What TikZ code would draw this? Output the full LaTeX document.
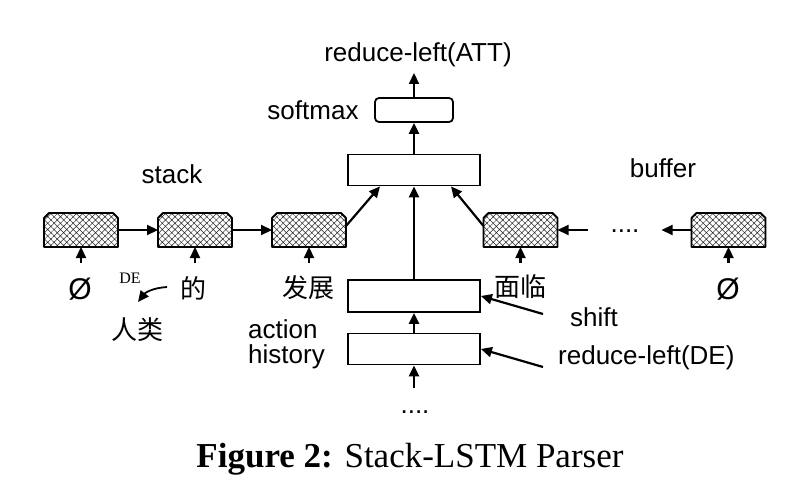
\documentclass[tikz,border=0pt]{standalone}
\usepackage{fontspec}
\setmainfont{Liberation Sans}
\newfontfamily\serif{Liberation Serif}
\newfontfamily\cjk{Noto Sans CJK SC}
\usetikzlibrary{patterns.meta,arrows.meta}
\begin{document}
\begin{tikzpicture}[x=1pt,y=-1pt,
  arr/.style={line width=2.2pt,-{Triangle[length=11pt,width=10pt]}},
  lstm/.style={minimum width=74pt,minimum height=34pt,inner sep=0pt,outer sep=0pt},
  lstmshape/.style={draw,line width=1.8pt,line join=round,
    pattern={Hatch[angle=45,distance=4.5pt,line width=0.5pt]},pattern color=black!85},
  plain/.style={draw,line width=1.8pt,minimum width=132pt,minimum height=31pt,inner sep=0pt},
  lab/.style={font=\fontsize{26}{26}\selectfont,inner sep=0pt},
  zh/.style={font=\fontsize{26}{26}\selectfont\cjk,inner sep=0pt}]
\useasboundingbox (0,0) rectangle (801,500);
% stack
\node[lstm] (s1) at (81,230) {};
\node[lstm] (s2) at (195,230) {};
\node[lstm] (s3) at (309,230) {};
% buffer
\node[lstm] (b1) at (520.5,230) {};
\node[lstm] (b2) at (728.5,230) {};
\foreach \n in {s1,s2,s3,b1,b2}
  \path[lstmshape] (\n.south west) -- ([yshift=-5pt]\n.north west) -- ([xshift=5pt]\n.north west)
    -- ([xshift=-5pt]\n.north east) -- ([yshift=-5pt]\n.north east) -- (\n.south east) -- cycle;
\node[lab,anchor=base] (dots) at (625,233) {....};
% central boxes
\node[draw,line width=1.8pt,rounded corners=4pt,minimum width=78pt,minimum height=24pt,inner sep=0pt] (sm) at (414,110) {};
\node[plain] (mid) at (414,170) {};
\node[plain,minimum height=32pt] (A) at (414,296) {};
\node[plain] (B) at (414,349) {};
% labels
\node[lab,anchor=base] (att) at (418,62) {reduce-left(ATT)};
\node[lab,anchor=base] (smlab) at (313,120) {softmax};
\node[lab,anchor=base] (stk) at (172,183) {stack};
\node[lab,anchor=base] (buf) at (663,178) {buffer};
\node[lab,anchor=base west] (act) at (248,338) {action};
\node[lab,anchor=base west] (hist) at (248,363) {history};
\node[lab,anchor=west] (shift) at (570,317) {shift};
\node[lab,anchor=west] (rdl) at (558,358) {reduce-left(DE)};
\node[lab,anchor=base] (bdots) at (415,413) {....};
% words
\node[font=\fontsize{30}{30}\selectfont,inner sep=0pt] (e1) at (80,289) {Ø};
\node[font=\fontsize{30}{30}\selectfont,inner sep=0pt] (e2) at (728,289) {Ø};
\node[zh] (de) at (193,288) {的};
\node[zh] (fz) at (308,288) {发展};
\node[zh] (ml) at (520,287) {面临};
\node[zh] (rl) at (137,330) {人类};
\node[font=\fontsize{16}{16}\selectfont\serif,inner sep=0pt] (delab) at (130,278) {DE};
\coordinate (c1) at (167,287);
\coordinate (c2) at (138,302);
\coordinate (attb) at ([yshift=-11pt]att.base);
% connectors
\draw[arr] (s1.east) -- (s2.west);
\draw[arr] (s2.east) -- (s3.west);
\draw[arr] ([yshift=4pt]s3.east) -- ([xshift=-34pt]mid.south);
\draw[arr] ([yshift=4pt]b1.west) -- ([xshift=37pt]mid.south);
\draw[arr] (b2.west) -- ([xshift=-30pt]b2.west);
\draw[arr] ([xshift=30pt]b1.east) -- (b1.east);
\draw[arr] (A.north) -- (mid.south);
\draw[arr] (mid.north) -- (sm.south);
\draw[arr] (sm.north) -- (sm.north |- attb);
\draw[arr] (B.north) -- (A.south);
\draw[arr] ([yshift=-23pt]B.south) -- (B.south);
\foreach \n in {s1,s2,s3,b1,b2}
  \draw[arr] ([yshift=-16pt]\n.south) -- (\n.south);
\draw[arr] ([xshift=-27pt,yshift=3pt]shift.west) -- (A.east);
\draw[arr] ([xshift=-15pt,yshift=-9pt]rdl.west) -- (B.east);
\draw[arr,line width=1.8pt] (c1) .. controls (152,288) and (145,293) .. (c2);
% caption
\node[font=\fontsize{35}{35}\selectfont\serif,anchor=base,inner sep=0pt] (cap) at (410,467) {\textbf{Figure 2:} Stack-LSTM Parser};
\end{tikzpicture}
\end{document}
